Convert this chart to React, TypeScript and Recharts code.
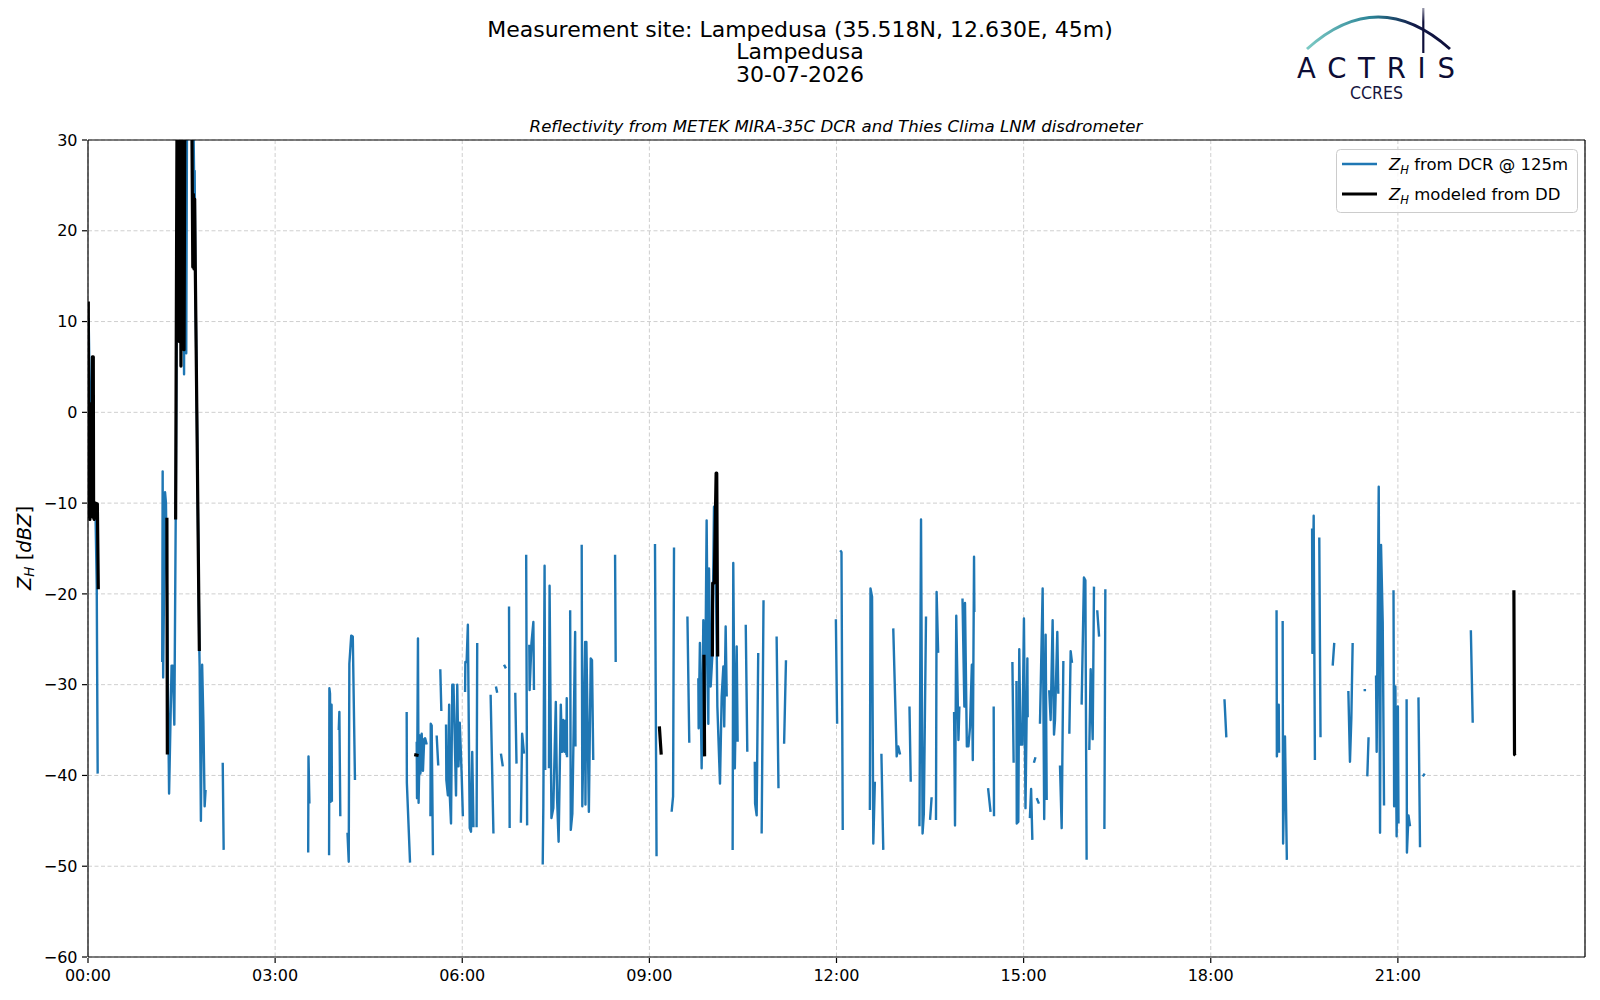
import { CartesianGrid, Line, LineChart, XAxis, YAxis } from 'recharts';

type Pt = [number, number];

// Z_H from the DCR at 125 m, in hours of the day; each inner list is one unbroken run
const dcrNight: Pt[][] = [
    [[0.01, 10.4], [0.02, 6], [0.035, 1.5], [0.05, -8], [0.08, -11], [0.12, -11], [0.14, -19], [0.155, -39.8]],
    [[1.19, -27.5], [1.197, -6.5], [1.205, -29.2], [1.235, -8.8], [1.25, -10], [1.3, -42], [1.34, -27.9], [1.36, -27.9],
        [1.384, -34.4], [1.406, -11.8], [1.44, 38], [1.46, 38], [1.47, 10], [1.48, 38], [1.52, 38], [1.54, 4.2], [1.55, 38],
        [1.575, 6.5], [1.59, 38], [1.68, 38], [1.7, 26.6], [1.705, 16], [1.71, 26.6], [1.72, 16], [1.745, 0.3], [1.785, -26.2],
        [1.79, -28], [1.81, -45], [1.83, -27.8], [1.85, -34], [1.87, -43.4], [1.885, -41.6]],
    [[2.16, -38.6], [2.175, -48.2]],
];

const dcrMorning: Pt[][] = [
    [[3.53, -48.5], [3.535, -37.9], [3.55, -43.1]],
    [[3.865, -48.8], [3.87, -30.4], [3.88, -31], [3.89, -42.9], [3.905, -32.2], [3.91, -42.9]],
    [[4.02, -35], [4.03, -33], [4.045, -44.5]],
    [[4.16, -46.3], [4.18, -49.5], [4.19, -27.7], [4.22, -24.6], [4.245, -24.7], [4.28, -40.5]],
    [[5.109, -33], [5.112, -40.8], [5.163, -49.6]],
    [[5.27, -36.3], [5.275, -42.5], [5.29, -24.9], [5.3, -43], [5.32, -35.6], [5.33, -39.8], [5.35, -35.4], [5.37, -39.5],
        [5.39, -36], [5.405, -35.9], [5.43, -36.6]],
    [[5.49, -44.5], [5.495, -34.3], [5.51, -34.5], [5.53, -48.8]],
    [[5.59, -35.6], [5.615, -38.9]],
    [[5.648, -28.3], [5.665, -32.9]],
    [[5.74, -34.4], [5.745, -40.5], [5.77, -42.2], [5.79, -32.2], [5.8, -42.2], [5.82, -45.3], [5.84, -30], [5.86, -30],
        [5.9, -42.2], [5.92, -30], [5.94, -39], [5.96, -34.2], [5.99, -39.8], [6.01, -44.5]],
    [[6.045, -30.8], [6.05, -27.5], [6.07, -27.5], [6.09, -23.4], [6.12, -45.8], [6.14, -46.2], [6.16, -37.4], [6.18, -45.7]],
    [[6.23, -45.7], [6.24, -25.4]],
    [[6.455, -31.1], [6.5, -46.4]],
    [[6.54, -30.2], [6.56, -30.9]],
    [[6.62, -37.6], [6.65, -39]],
    [[6.67, -27.8], [6.7, -28.2]],
    [[6.75, -21.4], [6.76, -45.8]],
    [[6.85, -30.9], [6.87, -38.7]],
    [[6.94, -45.2], [6.96, -35.4], [6.99, -37.6]],
    [[7.025, -15.7], [7.04, -45.5]],
    [[7.075, -25.6], [7.08, -30.6], [7.11, -25.4], [7.14, -23.1], [7.15, -30.6]],
    [[7.29, -49.8], [7.3, -43.4], [7.32, -16.9], [7.33, -39.4]],
    [[7.39, -39.2], [7.4, -19.1], [7.43, -44.7], [7.46, -43.6], [7.5, -31.9], [7.52, -42.5], [7.545, -47.3], [7.58, -32.2],
        [7.6, -37.4], [7.62, -33.9], [7.64, -37.4], [7.65, -34], [7.67, -37.7], [7.675, -31.5], [7.68, -38]],
    [[7.73, -21.8], [7.74, -46], [7.765, -44.2], [7.81, -24.2], [7.815, -36.8]],
    [[7.915, -14.6], [7.925, -43.4], [7.97, -25.3], [7.975, -43.2], [7.99, -25.3], [8.03, -44], [8.06, -27.1], [8.08, -27.3],
        [8.1, -38.3]],
    [[8.45, -15.7], [8.46, -27.5]],
];

const dcrMidday: Pt[][] = [
    [[9.09, -14.5], [9.115, -48.9]],
    [[9.357, -44], [9.38, -42.3], [9.395, -14.9]],
    [[9.61, -22.5], [9.64, -36.4]],
    [[9.785, -29.3], [9.79, -34.8], [9.81, -25.4], [9.838, -39.2], [9.865, -22.9], [9.89, -34.6], [9.918, -11.9],
        [9.945, -34.3], [9.956, -17.2], [9.983, -30.2], [10.009, -26.9], [10.036, -10.4], [10.068, -19.2], [10.09, -32.4],
        [10.132, -40.9], [10.159, -31.3], [10.186, -28], [10.2, -34.6], [10.223, -23.6], [10.24, -31.3]],
    [[10.335, -48.2], [10.345, -16.6], [10.37, -39.2], [10.4, -25.8], [10.415, -36.3]],
    [[10.545, -23.4], [10.57, -37.4]],
    [[10.69, -38.5], [10.695, -43.1], [10.72, -44.4], [10.745, -26.5]],
    [[10.8, -46.4], [10.83, -20.7]],
    [[11.04, -24.7], [11.07, -41.4]],
    [[11.16, -36.5], [11.19, -27.3]],
    [[11.99, -22.8], [12.01, -34.3]],
    [[12.06, -15.2], [12.08, -15.4], [12.1, -46]],
    [[12.535, -43.8], [12.545, -19.4], [12.57, -20.3], [12.59, -47.5], [12.615, -40.7]],
    [[12.72, -37.6], [12.75, -48.2]],
    [[12.91, -23.8], [12.965, -37.9], [12.99, -36.8], [13.02, -37.7]],
    [[13.17, -32.4], [13.19, -40.7]],
    [[13.33, -45.6], [13.355, -11.8], [13.38, -46.4], [13.4, -44.2], [13.435, -22.5]],
    [[13.5, -44.9], [13.525, -42.4]],
    [[13.595, -44.9], [13.605, -19.8], [13.63, -26.5]],
    [[13.885, -33], [13.9, -45.5], [13.92, -22.4], [13.955, -36.1], [13.97, -32.4]],
    [[14.02, -20.5], [14.05, -32.4], [14.06, -21], [14.09, -36.8], [14.115, -36.8], [14.14, -34.7], [14.17, -27.8],
        [14.185, -38.3], [14.205, -15.9], [14.21, -22]],
    [[14.43, -41.4], [14.47, -44]],
    [[14.52, -32.4], [14.525, -44.5]],
];

const dcrAfternoon: Pt[][] = [
    [[14.82, -27.5], [14.84, -38.6]],
    [[14.885, -29.6], [14.89, -45.3], [14.915, -45.1], [14.93, -26.1], [14.95, -36.6], [14.98, -36.6], [15.005, -22.7],
        [15.03, -43.6], [15.06, -27.1], [15.065, -33.6]],
    [[15.1, -44.7], [15.12, -41.5], [15.14, -47.1]],
    [[15.165, -38.6], [15.19, -38]],
    [[15.21, -42.5], [15.245, -43.1]],
    [[15.262, -34.3], [15.305, -19.4], [15.33, -44.8], [15.353, -24.5], [15.37, -42.7]],
    [[15.41, -30.6], [15.433, -33.9], [15.465, -22.9], [15.487, -35.5], [15.503, -33.9], [15.54, -24.2], [15.556, -31]],
    [[15.583, -38.9], [15.61, -45.8], [15.637, -27.4]],
    [[15.733, -35.4], [15.754, -26.3], [15.776, -27.6]],
    [[15.93, -32.2], [15.967, -18.2], [15.99, -18.5], [16.01, -49.3]],
    [[16.053, -37.2], [16.075, -28.3], [16.107, -36], [16.128, -19.2]],
    [[16.18, -21.8], [16.21, -24.7]],
    [[16.295, -45.9], [16.31, -19.5]],
    [[18.22, -31.6], [18.25, -35.8]],
];

const dcrEvening: Pt[][] = [
    [[19.055, -21.8], [19.06, -37.9], [19.09, -32.2], [19.095, -37.5]],
    [[19.153, -23], [19.16, -47.5], [19.19, -35.7], [19.22, -49.3]],
    [[19.625, -12.8], [19.63, -26.5], [19.65, -11.4], [19.67, -38.3]],
    [[19.74, -13.8], [19.76, -35.8]],
    [[19.955, -27.9], [19.98, -25.4]],
    [[20.206, -30.7], [20.232, -38.5], [20.254, -33.7], [20.275, -25.4]],
    [[20.45, -30.6], [20.49, -30.6]],
    [[20.51, -40.1], [20.53, -35.8]],
    [[20.65, -29], [20.66, -37.4], [20.693, -8.2], [20.714, -46.3], [20.73, -14.6], [20.757, -23.1], [20.778, -43.3]],
    [[20.93, -19.6], [20.94, -43.4], [20.96, -30.2], [20.98, -46.7], [21.0, -32.4], [21.01, -45.3]],
    [[21.14, -31.6], [21.145, -48.5], [21.17, -44.4], [21.195, -45.6]],
    [[21.33, -31.4], [21.355, -47.9]],
    [[21.4, -40.1], [21.43, -39.8]],
    [[22.17, -24], [22.2, -34.2]],
];

// Z_H modeled from the drop size distribution
const ddModeled: Pt[][] = [
    [[0.005, 12.2], [0.01, -11.5], [0.02, 1], [0.03, -11.8], [0.04, -4], [0.06, -11.5], [0.07, 6.1], [0.085, 6.1],
        [0.09, -11.6], [0.1, -11.8], [0.12, -10], [0.15, -10.1], [0.165, -19.5]],
    [[1.265, -11.6], [1.272, -37.7]],
    [[1.405, -11.8], [1.43, 38], [1.445, 38], [1.465, 7.8], [1.475, 38], [1.49, 5.1], [1.5, 38], [1.51, 7], [1.525, 38],
        [1.54, 6.9], [1.555, 38], [1.66, 38], [1.68, 16], [1.69, 24], [1.7, 15.8], [1.71, 23.5], [1.72, 16], [1.745, 0],
        [1.785, -26.3]],
    [[5.23, -37.7], [5.3, -37.8]],
    [[9.16, -34.6], [9.19, -37.7]],
    [[9.875, -26.7], [9.885, -37.9]],
    [[10.01, -26.9], [10.015, -18.8], [10.04, -18.8], [10.07, -6.7], [10.08, -6.7], [10.095, -26.9]],
    [[22.86, -19.6], [22.87, -37.7], [22.885, -37.8]],
];

const hourTicks = [0, 3, 6, 9, 12, 15, 18, 21];
const minorHourTicks = [0, 1, 2, 3, 4, 5, 6, 7, 8, 9, 10, 11, 12, 13, 14, 15, 16, 17, 18, 19, 20, 21, 22, 23, 24];
const zhTicks = [-60, -50, -40, -30, -20, -10, 0, 10, 20, 30];
const minorZhTicks = [-60, -58, -56, -54, -52, -50, -48, -46, -44, -42, -40, -38, -36, -34, -32, -30, -28, -26, -24, -22,
    -20, -18, -16, -14, -12, -10, -8, -6, -4, -2, 0, 2, 4, 6, 8, 10, 12, 14, 16, 18, 20, 22, 24, 26, 28, 30];

const titleLines = ['Measurement site: Lampedusa (35.518N, 12.630E, 45m)', 'Lampedusa', '30-07-2026'];
const subtitle = 'Reflectivity from METEK MIRA-35C DCR and Thies Clima LNM disdrometer';

const DCR_BLUE = '#1f77b4';
const FONT = '"DejaVu Sans", Verdana, sans-serif';

// axis ids: 0 = minor ticks (stacked next to the plot), 1 = labelled axis, 2 = top/right frame
const MINOR = 0;
const MAJOR = 1;
const FRAME = 2;

function toRows(segments: Pt[][]) {
    const rows: { h: number; z: number | null }[] = [];
    segments.forEach((seg) => {
        seg.forEach(([h, z]) => rows.push({ h, z }));
        rows.push({ h: seg[seg.length - 1][0] + 0.0005, z: null });
    });
    return rows;
}

const dcrRows = toRows([...dcrNight, ...dcrMorning, ...dcrMidday, ...dcrAfternoon, ...dcrEvening]);
const ddRows = toRows(ddModeled);

const fmtHour = (h: number) => `${String(h).padStart(2, '0')}:00`;
const fmtZh = (v: number) => (v < 0 ? `\u2212${-v}` : `${v}`);

const tickFont = { fill: '#000', fontSize: 16, fontFamily: FONT };
const spine = { stroke: '#000', strokeWidth: 1.2 };

function Overlay() {
    return (
        <svg
            width={1600}
            height={1000}
            style={{ position: 'absolute', left: 0, top: 0, pointerEvents: 'none' }}
            fontFamily={FONT}
        >
            <defs>
                <linearGradient id="arc" x1={1307} y1={0} x2={1450} y2={0} gradientUnits="userSpaceOnUse">
                    <stop offset="0" stopColor="#7ccac4" />
                    <stop offset="0.45" stopColor="#2b8396" />
                    <stop offset="0.75" stopColor="#121a48" />
                    <stop offset="1" stopColor="#0e0f3a" />
                </linearGradient>
                <linearGradient id="mast" x1={0} y1={0} x2={0} y2={55} gradientUnits="userSpaceOnUse">
                    <stop offset="0" stopColor="#0e0f3a" stopOpacity="0.1" />
                    <stop offset="0.4" stopColor="#0e0f3a" stopOpacity="1" />
                </linearGradient>
            </defs>

            {titleLines.map((line, i) => (
                <text key={line} x={800} y={37 + i * 22.4} textAnchor="middle" fontSize={22} fill="#000">
                    {line}
                </text>
            ))}
            <text x={836} y={132} textAnchor="middle" fontSize={16.6} fontStyle="italic" fill="#000">
                {subtitle}
            </text>

            {/* ACTRIS / CCRES logo */}
            <path d="M1307 49 Q1378 -15 1450 49" fill="none" stroke="url(#arc)" strokeWidth={3} />
            <line x1={1423.3} y1={2} x2={1423.3} y2={53} stroke="url(#mast)" strokeWidth={2.2} />
            <text x={1297} y={77.5} fontSize={27.5} fill="#0d0d35" textLength={158} lengthAdjust="spacing">
                ACTRIS
            </text>
            <text x={1350} y={99} fontSize={17.5} fill="#16163e" textLength={53} lengthAdjust="spacingAndGlyphs">
                CCRES
            </text>

            {/* y label */}
            <text
                x={24}
                y={548}
                transform="rotate(-90 24 548)"
                textAnchor="middle"
                dominantBaseline="central"
                fontSize={19.5}
                fill="#000"
            >
                <tspan fontStyle="italic">Z</tspan>
                <tspan fontStyle="italic" fontSize={13.5} dy={4.5}>H</tspan>
                <tspan dy={-4.5}> [</tspan>
                <tspan fontStyle="italic">dBZ</tspan>
                <tspan>]</tspan>
            </text>

            {/* legend */}
            <rect x={1336.5} y={149.5} width={241} height={63} rx={4} fill="#fff" fillOpacity={0.8} stroke="#cccccc" />
            <line x1={1342} y1={164} x2={1377} y2={164} stroke={DCR_BLUE} strokeWidth={2.4} />
            <line x1={1342} y1={194} x2={1377} y2={194} stroke="#000" strokeWidth={3} />
            <text x={1389} y={170} fontSize={16.5} fill="#000">
                <tspan fontStyle="italic">Z</tspan>
                <tspan fontStyle="italic" fontSize={11.5} dy={4}>H</tspan>
                <tspan dy={-4}> from DCR @ 125m</tspan>
            </text>
            <text x={1389} y={200} fontSize={16.5} fill="#000">
                <tspan fontStyle="italic">Z</tspan>
                <tspan fontStyle="italic" fontSize={11.5} dy={4}>H</tspan>
                <tspan dy={-4}> modeled from DD</tspan>
            </text>
        </svg>
    );
}

export default function App() {
    return (
        <div style={{ position: 'relative', width: 1600, height: 1000, margin: -8, background: '#fff' }}>
            {/* plot area: x 88..1585, y 140..957 */}
            <LineChart width={1600} height={1000} margin={{ top: 139, right: 14, bottom: 13, left: 17 }}>
                <CartesianGrid
                    xAxisId={MAJOR}
                    yAxisId={MAJOR}
                    stroke="#cfcfcf"
                    strokeWidth={1}
                    strokeDasharray="4 2.5"
                />
                <XAxis
                    xAxisId={MINOR}
                    type="number"
                    dataKey="h"
                    domain={[0, 24]}
                    ticks={minorHourTicks}
                    interval={0}
                    tick={false}
                    tickSize={3.2}
                    tickLine={spine}
                    axisLine={spine}
                    height={1}
                    allowDataOverflow
                />
                <XAxis
                    xAxisId={MAJOR}
                    type="number"
                    dataKey="h"
                    domain={[0, 24]}
                    ticks={hourTicks}
                    interval={0}
                    tickFormatter={fmtHour}
                    tick={tickFont}
                    tickSize={5}
                    tickMargin={6.5}
                    tickLine={spine}
                    axisLine={false}
                    height={29}
                    allowDataOverflow
                />
                <XAxis
                    xAxisId={FRAME}
                    orientation="top"
                    type="number"
                    dataKey="h"
                    domain={[0, 24]}
                    tick={false}
                    tickLine={false}
                    axisLine={spine}
                    height={1}
                    allowDataOverflow
                />
                <YAxis
                    yAxisId={MINOR}
                    type="number"
                    domain={[-60, 30]}
                    ticks={minorZhTicks}
                    interval={0}
                    tick={false}
                    tickSize={3.2}
                    tickLine={spine}
                    axisLine={spine}
                    width={1}
                    allowDataOverflow
                />
                <YAxis
                    yAxisId={MAJOR}
                    type="number"
                    domain={[-60, 30]}
                    ticks={zhTicks}
                    interval={0}
                    tickFormatter={fmtZh}
                    tick={tickFont}
                    tickSize={5}
                    tickMargin={4.5}
                    tickLine={spine}
                    axisLine={false}
                    width={70}
                    allowDataOverflow
                />
                <YAxis
                    yAxisId={FRAME}
                    orientation="right"
                    type="number"
                    domain={[-60, 30]}
                    tick={false}
                    tickLine={false}
                    axisLine={spine}
                    width={1}
                    allowDataOverflow
                />
                <Line
                    xAxisId={MAJOR}
                    yAxisId={MAJOR}
                    data={dcrRows}
                    dataKey="z"
                    stroke={DCR_BLUE}
                    strokeWidth={2.4}
                    strokeLinejoin="round"
                    dot={false}
                    activeDot={false}
                    isAnimationActive={false}
                />
                <Line
                    xAxisId={MAJOR}
                    yAxisId={MAJOR}
                    data={ddRows}
                    dataKey="z"
                    stroke="#000"
                    strokeWidth={3.2}
                    strokeLinejoin="round"
                    dot={false}
                    activeDot={false}
                    isAnimationActive={false}
                />
            </LineChart>
            <Overlay />
        </div>
    );
}
